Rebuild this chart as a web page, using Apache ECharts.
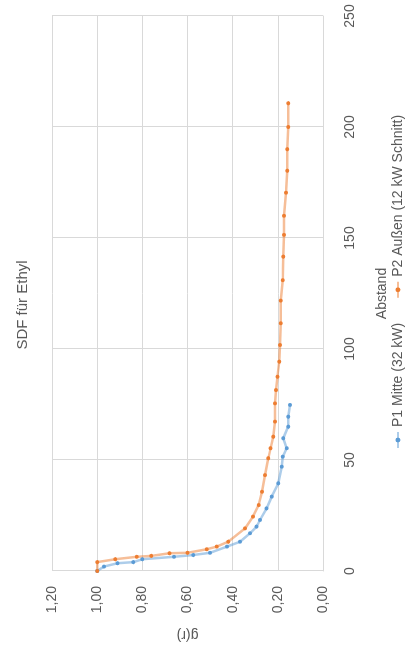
<!DOCTYPE html>
<html>
<head>
<meta charset="utf-8">
<script src="https://cdn.jsdelivr.net/npm/echarts/dist/echarts.min.js"></script>
<style>
  html, body { margin: 0; padding: 0; background: #fff; overflow: hidden; }
  /* chart is laid out landscape and turned a quarter turn counter-clockwise */
  #chart {
    position: absolute; left: 0; top: 0;
    width: 645px; height: 406px;
    transform-origin: 0 0;
    transform: translate(0, 645px) rotate(-90deg);
  }
</style>
</head>
<body>
<div id="chart"></div>
<script>
// Distance axis ticks and g(r) ticks
const distTicks = [0, 50, 100, 150, 200, 250];
const gTicks = [0, 0.2, 0.4, 0.6, 0.8, 1.0, 1.2];

const seriesNames = ['P1 Mitte (32 kW)', 'P2 Außen (12 kW Schnitt)'];

// Series 1 (blue)
const distP1 = [0, 2, 3.5, 4, 5.3, 6.4, 7.2, 8.2, 11, 13.2, 17, 20, 23, 28.2, 33.5, 39.5, 47, 51.5, 55.3, 59.8, 65, 69.5, 74.8];
const gP1 = [1.00, 0.97, 0.91, 0.84, 0.80, 0.66, 0.575, 0.50, 0.425, 0.367, 0.323, 0.294, 0.279, 0.25, 0.227, 0.198, 0.183, 0.178, 0.161, 0.176, 0.154, 0.154, 0.146];

// Series 2 (orange)
const distP2 = [0, 4, 5.3, 6.4, 6.8, 8, 8.2, 9.8, 11, 13.2, 19.2, 24.5, 29.7, 35.7, 43.2, 50.8, 55.3, 60.5, 67.3, 75.5, 81.5, 87.5, 94.3, 101.8, 111.6, 121.8, 131, 141.6, 151.4, 160, 170.4, 180.3, 190, 200, 210.7];
const gP2 = [1.00, 1.00, 0.92, 0.825, 0.76, 0.68, 0.60, 0.515, 0.47, 0.42, 0.345, 0.31, 0.285, 0.27, 0.257, 0.242, 0.232, 0.22, 0.213, 0.213, 0.208, 0.202, 0.194, 0.19, 0.187, 0.187, 0.178, 0.176, 0.173, 0.173, 0.164, 0.158, 0.158, 0.154, 0.154];

const pairs = (xs, ys) => xs.map((x, i) => [x, ys[i]]);

const chart = echarts.init(document.getElementById('chart'), null, { renderer: 'canvas' });
const labelColor = '#595959';
const gridColor = '#D9D9D9';
const fontFamily = 'Liberation Sans, Arial, sans-serif';

chart.setOption({
  animation: false,
  backgroundColor: '#ffffff',
  textStyle: { fontFamily: fontFamily },
  title: {
    text: 'SDF für Ethyl',
    left: 335, top: 10, textAlign: 'center',
    textStyle: { fontSize: 15, fontWeight: 'normal', color: labelColor, fontFamily: fontFamily }
  },
  grid: { left: 74, right: 16, top: 52, bottom: 83, containLabel: false, outerBoundsMode: 'none' },
  xAxis: {
    type: 'value',
    min: distTicks[0], max: distTicks[distTicks.length - 1], interval: 50,
    name: 'Abstand', nameLocation: 'middle', nameGap: 52,
    nameTextStyle: { fontSize: 14, color: labelColor },
    axisLine: { lineStyle: { color: gridColor, width: 1 } },
    axisTick: { show: false },
    axisLabel: { color: labelColor, fontSize: 14, margin: 20 },
    splitLine: { show: true, lineStyle: { color: gridColor, width: 1 } }
  },
  yAxis: {
    type: 'value',
    min: gTicks[0], max: gTicks[gTicks.length - 1], interval: 0.2,
    name: 'g(r)', nameLocation: 'middle', nameGap: 57, nameRotate: 90,
    nameTextStyle: { fontSize: 14, color: labelColor },
    axisLine: { show: false },
    axisTick: { show: false },
    axisLabel: {
      color: labelColor, fontSize: 14, margin: 15,
      formatter: v => v.toFixed(2).replace('.', ',')
    },
    splitLine: { show: true, lineStyle: { color: gridColor, width: 1 } }
  },
  legend: {
    bottom: -4, left: 191,
    itemWidth: 16, itemHeight: 6, itemGap: 24,
    textStyle: { fontSize: 14, color: labelColor },
    data: seriesNames
  },
  series: [
    {
      name: seriesNames[0], type: 'line',
      data: pairs(distP1, gP1),
      symbol: 'circle', symbolSize: 4,
      lineStyle: { color: 'rgba(91,155,213,0.5)', width: 2.5 },
      itemStyle: { color: '#5B9BD5' }
    },
    {
      name: seriesNames[1], type: 'line',
      data: pairs(distP2, gP2),
      symbol: 'circle', symbolSize: 4,
      lineStyle: { color: 'rgba(237,125,49,0.5)', width: 2.5 },
      itemStyle: { color: '#ED7D31' }
    }
  ]
});
</script>
</body>
</html>
